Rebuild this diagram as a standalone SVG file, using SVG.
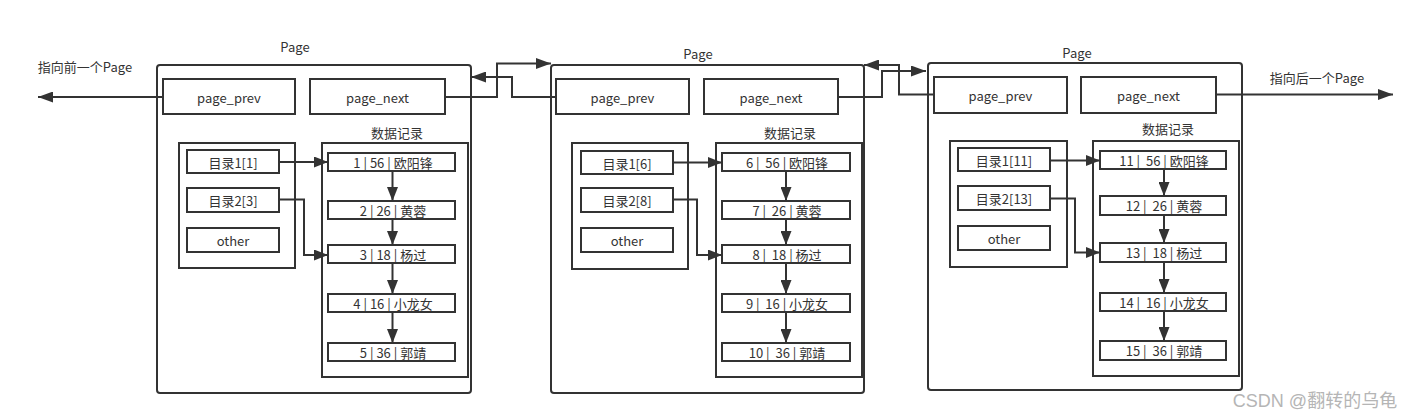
<svg xmlns="http://www.w3.org/2000/svg" width="1417" height="419" viewBox="0 0 1417 419">
<style>
.box{fill:#fff;stroke:#333;stroke-width:2}
.page{fill:#fff;stroke:#333;stroke-width:2}
.cont{fill:none;stroke:#333;stroke-width:2}
.t{font-family:"Noto Sans CJK SC","Liberation Sans",sans-serif;font-size:13px;fill:#333;text-anchor:middle;dominant-baseline:central;white-space:pre}
.c{fill:none;stroke:#333;stroke-width:2}
.wm{font-family:"Liberation Sans","Noto Sans CJK SC",sans-serif;font-size:18px;fill:#b5b5b5;text-anchor:middle;dominant-baseline:central}
</style>
<defs>
<marker id="a" markerUnits="userSpaceOnUse" markerWidth="15" markerHeight="11" refX="15" refY="5.5" orient="auto">
<path d="M0,0 L15,5.5 L0,11 z" fill="#333"/>
</marker>
<marker id="b" markerUnits="userSpaceOnUse" markerWidth="14" markerHeight="11" refX="14" refY="5.5" orient="auto">
<path d="M0,0 L14,5.5 L0,11 z" fill="#333"/>
</marker>
</defs>
<rect width="1417" height="419" fill="#fff"/>

<g id="page1">
<rect class="page" x="157" y="65" width="314" height="328" rx="3"/>
<text class="t" x="295" y="46">Page</text>
<rect class="box" x="163" y="79" width="132" height="35"/>
<text class="t" x="229" y="97">page_prev</text>
<rect class="box" x="310" y="79" width="135" height="35"/>
<text class="t" x="377.5" y="97">page_next</text>
<text class="t" x="397" y="132">数据记录</text>
<rect class="cont" x="179" y="143" width="116" height="125"/>
<rect class="box" x="187" y="150" width="92" height="23"/>
<text class="t" x="233" y="162">目录1[1]</text>
<rect class="box" x="187" y="188" width="92" height="24"/>
<text class="t" x="233" y="200">目录2[3]</text>
<rect class="box" x="187" y="228" width="92" height="24"/>
<text class="t" x="233" y="240">other</text>
<rect class="cont" x="322" y="143" width="146" height="234"/>
<rect class="box" x="328" y="153" width="127" height="18"/>
<text class="t" x="393" y="162">1 | 56 | 欧阳锋</text>
<rect class="box" x="328" y="201" width="127" height="18"/>
<text class="t" x="393" y="210">2 | 26 | 黄蓉</text>
<rect class="box" x="328" y="245" width="127" height="18"/>
<text class="t" x="393" y="254">3 | 18 | 杨过</text>
<rect class="box" x="328" y="294" width="127" height="18"/>
<text class="t" x="393" y="303">4 | 16 | 小龙女</text>
<rect class="box" x="328" y="343" width="127" height="18"/>
<text class="t" x="393" y="352">5 | 36 | 郭靖</text>
</g>

<g id="page2">
<rect class="page" x="551" y="65" width="313" height="328" rx="3"/>
<text class="t" x="698" y="53">Page</text>
<rect class="box" x="556" y="79" width="133" height="35"/>
<text class="t" x="622.5" y="97">page_prev</text>
<rect class="box" x="704" y="79" width="134" height="35"/>
<text class="t" x="771" y="97">page_next</text>
<text class="t" x="790" y="132">数据记录</text>
<rect class="cont" x="572" y="143" width="116" height="126"/>
<rect class="box" x="581" y="151" width="92" height="23"/>
<text class="t" x="627" y="163">目录1[6]</text>
<rect class="box" x="581" y="188" width="92" height="24"/>
<text class="t" x="627" y="200">目录2[8]</text>
<rect class="box" x="581" y="228" width="92" height="24"/>
<text class="t" x="627" y="240">other</text>
<rect class="cont" x="716" y="143" width="146" height="234"/>
<rect class="box" x="722" y="153" width="128" height="18"/>
<text class="t" x="787" y="162">6 |  56 | 欧阳锋</text>
<rect class="box" x="722" y="201" width="128" height="18"/>
<text class="t" x="787" y="210">7 |  26 | 黄蓉</text>
<rect class="box" x="722" y="245" width="128" height="18"/>
<text class="t" x="787" y="254">8 |  18 | 杨过</text>
<rect class="box" x="722" y="294" width="128" height="18"/>
<text class="t" x="787" y="303">9 |  16 | 小龙女</text>
<rect class="box" x="722" y="343" width="128" height="18"/>
<text class="t" x="787" y="352">10 |  36 | 郭靖</text>
</g>

<g id="page3">
<rect class="page" x="928" y="63" width="314" height="327" rx="3"/>
<text class="t" x="1077" y="52">Page</text>
<rect class="box" x="934" y="77" width="133" height="36"/>
<text class="t" x="1000.5" y="95">page_prev</text>
<rect class="box" x="1081" y="77" width="135" height="36"/>
<text class="t" x="1148.5" y="95">page_next</text>
<text class="t" x="1168" y="128">数据记录</text>
<rect class="cont" x="950" y="141" width="117" height="126"/>
<rect class="box" x="958" y="148" width="92" height="23"/>
<text class="t" x="1004" y="160">目录1[11]</text>
<rect class="box" x="958" y="186" width="92" height="24"/>
<text class="t" x="1004" y="198">目录2[13]</text>
<rect class="box" x="958" y="226" width="92" height="24"/>
<text class="t" x="1004" y="238">other</text>
<rect class="cont" x="1093" y="141" width="146" height="235"/>
<rect class="box" x="1100" y="151" width="126" height="18"/>
<text class="t" x="1164" y="160">11 |  56 | 欧阳锋</text>
<rect class="box" x="1100" y="196" width="126" height="19"/>
<text class="t" x="1164" y="205.5">12 |  26 | 黄蓉</text>
<rect class="box" x="1100" y="243" width="126" height="19"/>
<text class="t" x="1164" y="252.5">13 |  18 | 杨过</text>
<rect class="box" x="1100" y="293" width="126" height="18"/>
<text class="t" x="1164" y="302">14 |  16 | 小龙女</text>
<rect class="box" x="1100" y="341" width="126" height="19"/>
<text class="t" x="1164" y="350.5">15 |  36 | 郭靖</text>
</g>

<g id="labels">
<text class="t" x="85" y="66">指向前一个Page</text>
<text class="t" x="1317" y="77">指向后一个Page</text>
</g>

<g id="connectors">
<path class="c" d="M163,97 L38,97" marker-end="url(#a)"/>
<path class="c" d="M445,97 L497,97 L497,63.5 L551,63.5" marker-end="url(#a)"/>
<path class="c" d="M556,97 L512,97 L512,77 L471,77" marker-end="url(#a)"/>
<path class="c" d="M838,97 L882,97 L882,71 L926,71" marker-end="url(#a)"/>
<path class="c" d="M934,94.5 L899,94.5 L899,65 L864,65" marker-end="url(#a)"/>
<path class="c" d="M1216,94.5 L1393,94.5" marker-end="url(#a)"/>

<path class="c" d="M279,162 L328,162" marker-end="url(#b)"/>
<path class="c" d="M279,199.5 L304,199.5 L304,255 L328,255" marker-end="url(#b)"/>
<path class="c" d="M392.5,171 L392.5,201" marker-end="url(#b)"/>
<path class="c" d="M392.5,219 L392.5,245" marker-end="url(#b)"/>
<path class="c" d="M392.5,263 L392.5,294" marker-end="url(#b)"/>
<path class="c" d="M392.5,312 L392.5,343" marker-end="url(#b)"/>

<path class="c" d="M673,162.5 L722,162.5" marker-end="url(#b)"/>
<path class="c" d="M673,199.5 L697,199.5 L697,255 L722,255" marker-end="url(#b)"/>
<path class="c" d="M786,171 L786,201" marker-end="url(#b)"/>
<path class="c" d="M786,219 L786,245" marker-end="url(#b)"/>
<path class="c" d="M786,263 L786,294" marker-end="url(#b)"/>
<path class="c" d="M786,312 L786,343" marker-end="url(#b)"/>

<path class="c" d="M1050,160.5 L1100,160.5" marker-end="url(#b)"/>
<path class="c" d="M1050,198.5 L1075,198.5 L1075,252.5 L1100,252.5" marker-end="url(#b)"/>
<path class="c" d="M1164,169 L1164,196" marker-end="url(#b)"/>
<path class="c" d="M1164,215 L1164,243" marker-end="url(#b)"/>
<path class="c" d="M1164,262 L1164,293" marker-end="url(#b)"/>
<path class="c" d="M1164,311 L1164,341" marker-end="url(#b)"/>
</g>

<text class="wm" x="1315" y="401">CSDN @翻转的乌龟</text>
</svg>
